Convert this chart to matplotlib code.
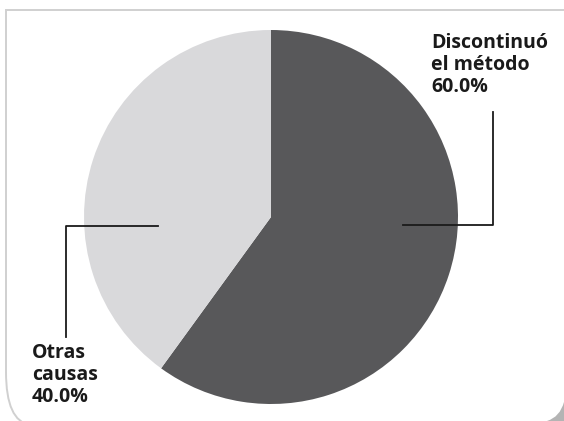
import matplotlib.pyplot as plt
from matplotlib.path import Path
from matplotlib.patches import PathPatch

# Data
labels = ["Discontinuó\nel método", "Otras\ncausas"]
values = [60.0, 40.0]
colors = ["#58585a", "#d9d9db"]

W, H = 564, 421
fig = plt.figure(figsize=(W / 100, H / 100), dpi=100)
ax = fig.add_axes([0, 0, 1, 1])

def Y(y):
    return H - y

# card frame: top and left edges, left edge curving out at the bottom
verts = [(W, Y(10)), (6, Y(10)), (6, Y(372)), (6, Y(421)), (30, Y(425))]
codes = [Path.MOVETO, Path.LINETO, Path.LINETO, Path.CURVE3, Path.CURVE3]
ax.add_patch(PathPatch(Path(verts, codes), fill=False, edgecolor="#d0d0d0", lw=1.4))

# shaded bottom-right corner
ax.add_patch(PathPatch(Path([(547, Y(421)), (564, Y(421)), (564, Y(402)),
                             (560, Y(417)), (547, Y(421)), (547, Y(421))],
                            [Path.MOVETO, Path.LINETO, Path.LINETO, Path.CURVE3,
                             Path.CURVE3, Path.CLOSEPOLY]),
                       facecolor="#b4b4b4", edgecolor="none"))

# pie
ax.pie(values, colors=colors, startangle=90, counterclock=False,
       center=(271, Y(217)), radius=187, frame=True,
       wedgeprops=dict(linewidth=0))
ax.set_xlim(0, W)
ax.set_ylim(0, H)
ax.set_aspect("equal")
ax.axis("off")

# leader lines
ax.plot([403, 493, 493], [Y(225), Y(225), Y(112)], color="#1a1a1a", lw=1.3)
ax.plot([158, 66, 66], [Y(226), Y(226), Y(337)], color="#1a1a1a", lw=1.3)

font = dict(family=["Open Sans", "DejaVu Sans"], fontweight="bold",
            fontsize=14, color="#1a1a1a", linespacing=1.15)
ax.text(431, Y(33), f"{labels[0]}\n{values[0]:.1f}%", ha="left", va="top", **font)
ax.text(32, Y(343), f"{labels[1]}\n{values[1]:.1f}%", ha="left", va="top", **font)

fig.savefig("out.png", dpi=100)
